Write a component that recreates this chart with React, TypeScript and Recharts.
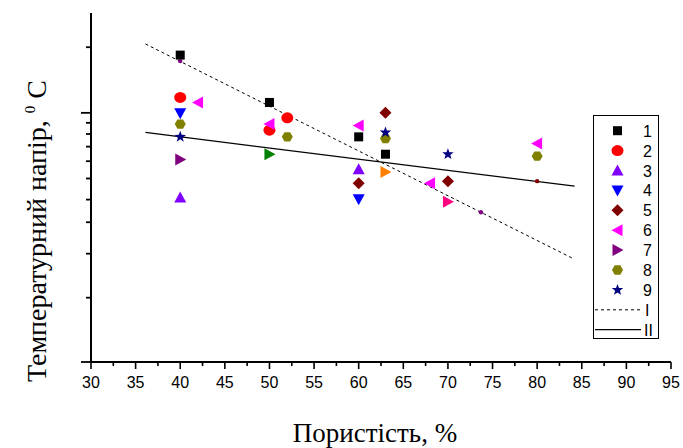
import React from "react";
import { ScatterChart, Scatter, XAxis, YAxis, Legend } from "recharts";

// porosity, % (x) and temperature head (y, log axis, no labels on the original)
const S1_X = [40, 50, 60, 63];
const S1_Y = [18.4, 11.16, 7.76, 6.46];
const S2_X = [40, 50, 52];
const S2_Y = [11.77, 8.33, 9.49];
const S3_X = [40, 60];
const S3_Y = [4.09, 5.51];
const S4_X = [40, 60];
const S4_Y = [9.97, 4.02];
const S5_X = [60, 63, 70];
const S5_Y = [4.75, 10.0, 4.86];
const S6_X = [42, 50, 60, 68, 80];
const S6_Y = [11.16, 8.88, 8.75, 4.75, 7.24];
const S7_X = [40];
const S7_Y = [6.11];
const S8_X = [40, 52, 63, 80];
const S8_Y = [8.88, 7.76, 7.63, 6.33];
const S9_X = [40, 63, 70];
const S9_Y = [7.76, 8.13, 6.46];

// extra points without a legend entry
const GREEN_X = [50];
const GREEN_Y = [6.45];
const ORANGE_X = [63];
const ORANGE_Y = [5.36];
const PINK_X = [70];
const PINK_Y = [3.91];
const DOT_PURPLE_X = [40, 73.7];
const DOT_PURPLE_Y = [17.27, 3.5];
const DOT_WINE_X = [80];
const DOT_WINE_Y = [4.86];

// trend lines
const LINE_I_X = [36.1, 83.9];
const LINE_I_Y = [20.7, 2.16];
const LINE_II_X = [36.1, 84.2];
const LINE_II_Y = [8.13, 4.61];

const X_TICKS = [30, 35, 40, 45, 50, 55, 60, 65, 70, 75, 80, 85, 90, 95];
const Y_TICKS = [0.72, 1.42, 2.26, 3.15, 4, 5, 6, 7, 8, 9, 10, 20];
const Y_MAJOR = [0.72, 10];

const pts = (xs: number[], ys: number[]) => xs.map((x, i) => ({ x, y: ys[i] }));

type Kind = "square" | "circle" | "up" | "down" | "diamond" | "left" | "right" | "hex" | "star" | "dot";

function Marker({ kind, cx, cy, color }: { kind: Kind; cx: number; cy: number; color: string }) {
  const poly = (p: number[][]) => (
    <polygon points={p.map(([a, b]) => `${cx + a},${cy + b}`).join(" ")} fill={color} />
  );
  switch (kind) {
    case "square":
      return <rect x={cx - 4.5} y={cy - 4.5} width={9} height={9} fill={color} />;
    case "circle":
      return <ellipse cx={cx} cy={cy} rx={6} ry={5.5} fill={color} />;
    case "dot":
      return <circle cx={cx} cy={cy} r={2.2} fill={color} />;
    case "up":
      return poly([[0, -6], [6, 5], [-6, 5]]);
    case "down":
      return poly([[0, 6], [6, -5], [-6, -5]]);
    case "left":
      return poly([[-6, 0], [5, -6], [5, 6]]);
    case "right":
      return poly([[6, 0], [-5, -6], [-5, 6]]);
    case "diamond":
      return poly([[0, -6], [6, 0], [0, 6], [-6, 0]]);
    case "hex":
      return poly([[5.5, 0], [2.8, -4.7], [-2.8, -4.7], [-5.5, 0], [-2.8, 4.7], [2.8, 4.7]]);
    case "star": {
      const p: number[][] = [];
      for (let i = 0; i < 10; i++) {
        const r = i % 2 === 0 ? 6 : 2.5;
        const a = -Math.PI / 2 + (i * Math.PI) / 5;
        p.push([r * Math.cos(a), r * Math.sin(a)]);
      }
      return poly(p);
    }
  }
  return null;
}

const SERIES: { name: string; kind: Kind; color: string; data: { x: number; y: number }[] }[] = [
  { name: "1", kind: "square", color: "#000000", data: pts(S1_X, S1_Y) },
  { name: "2", kind: "circle", color: "#ff0000", data: pts(S2_X, S2_Y) },
  { name: "3", kind: "up", color: "#8000ff", data: pts(S3_X, S3_Y) },
  { name: "4", kind: "down", color: "#0000ff", data: pts(S4_X, S4_Y) },
  { name: "5", kind: "diamond", color: "#800000", data: pts(S5_X, S5_Y) },
  { name: "6", kind: "left", color: "#ff00ff", data: pts(S6_X, S6_Y) },
  { name: "7", kind: "right", color: "#800080", data: pts(S7_X, S7_Y) },
  { name: "8", kind: "hex", color: "#808000", data: pts(S8_X, S8_Y) },
  { name: "9", kind: "star", color: "#000080", data: pts(S9_X, S9_Y) },
];

const EXTRA: { kind: Kind; color: string; data: { x: number; y: number }[] }[] = [
  { kind: "right", color: "#008000", data: pts(GREEN_X, GREEN_Y) },
  { kind: "right", color: "#ff8000", data: pts(ORANGE_X, ORANGE_Y) },
  { kind: "right", color: "#ff0080", data: pts(PINK_X, PINK_Y) },
  { kind: "dot", color: "#800080", data: pts(DOT_PURPLE_X, DOT_PURPLE_Y) },
  { kind: "dot", color: "#800000", data: pts(DOT_WINE_X, DOT_WINE_Y) },
];

const XTick = (props: any) => {
  const { x, y, payload } = props;
  const v = payload.value;
  const major = v % 5 === 0;
  return (
    <g>
      <line x1={x} x2={x} y1={y} y2={y + (major ? 7 : 4)} stroke="#000" strokeWidth={1.6} />
      {major && (
        <text x={x} y={y + 26} textAnchor="middle" fontSize={16} fontFamily="'Liberation Sans', Arial" fill="#000">
          {v}
        </text>
      )}
    </g>
  );
};

const YTick = (props: any) => {
  const { x, y, payload } = props;
  const len = Y_MAJOR.includes(payload.value) ? 10 : 5;
  return <line x1={x - len} x2={x} y1={y} y2={y} stroke="#000" strokeWidth={1.8} />;
};

const YTitle = () => (
  <text
    transform="rotate(-90)"
    x={-231}
    y={46}
    textAnchor="middle"
    fontSize={28}
    fontFamily="'Liberation Serif', 'Times New Roman', serif"
    fill="#000"
  >
    Температурний напір,{" "}
    <tspan dy={-11} fontSize={15}>
      0
    </tspan>
    <tspan dy={11}> C</tspan>
  </text>
);

const XTitle = () => (
  <text x={375} y={442} textAnchor="middle" fontSize={27} fontFamily="'Liberation Serif', 'Times New Roman', serif" fill="#000">
    Пористість, %
  </text>
);

const LegendBox = () => (
  <div style={{ width: 66, height: 224, border: "1px solid #000", boxSizing: "border-box", background: "#fff" }}>
    <svg width={64} height={222} style={{ display: "block" }}>
      {SERIES.map((s, i) => (
        <g key={s.name}>
          <Marker kind={s.kind} color={s.color} cx={23.5} cy={14.7 + 19.9 * i} />
          <text x={49} y={14.7 + 19.9 * i + 6} fontSize={16} fontFamily="'Liberation Sans', Arial" fill="#000">
            {s.name}
          </text>
        </g>
      ))}
      <line x1={1} x2={47} y1={14.7 + 19.9 * 9} y2={14.7 + 19.9 * 9} stroke="#000" strokeWidth={1} strokeDasharray="3 3" />
      <text x={51} y={14.7 + 19.9 * 9 + 6} fontSize={16} fontFamily="'Liberation Sans', Arial" fill="#000">
        I
      </text>
      <line x1={1} x2={47} y1={14.7 + 19.9 * 10} y2={14.7 + 19.9 * 10} stroke="#000" strokeWidth={1.2} />
      <text x={50} y={14.7 + 19.9 * 10 + 6} fontSize={16} fontFamily="'Liberation Sans', Arial" fill="#000">
        II
      </text>
    </svg>
  </div>
);

const xTicksAll = X_TICKS.flatMap((t, i) => (i < X_TICKS.length - 1 ? [t, t + 2.5] : [t]));

export default function App() {
  return (
    <div style={{ position: "absolute", left: 0, top: 0, width: 683, height: 448, background: "#fff" }}>
      <ScatterChart width={683} height={448} margin={{ top: 13, right: 12, bottom: 56, left: 51 }}>
        <XAxis
          dataKey="x"
          type="number"
          domain={[30, 95]}
          ticks={xTicksAll}
          interval={0}
          tickSize={0}
          tickMargin={0}
          tickLine={false}
          tick={<XTick />}
          axisLine={{ stroke: "#000", strokeWidth: 2 }}
          height={30}
          label={<XTitle />}
          allowDataOverflow
        />
        <YAxis
          dataKey="y"
          type="number"
          scale="log"
          domain={[0.72, 28.7]}
          ticks={Y_TICKS}
          interval={0}
          tickSize={0}
          tickMargin={0}
          tickLine={false}
          tick={<YTick />}
          axisLine={{ stroke: "#000", strokeWidth: 2 }}
          width={40}
          label={<YTitle />}
          allowDataOverflow
        />
        <Legend
          layout="vertical"
          align="center"
          verticalAlign="middle"
          content={<LegendBox />}
          wrapperStyle={{ left: 593, top: 115, width: 66, height: 224 }}
        />
        <Scatter
          data={pts(LINE_I_X, LINE_I_Y)}
          line={{ stroke: "#000", strokeWidth: 1, strokeDasharray: "3 3" }}
          shape={() => <g />}
          isAnimationActive={false}
        />
        <Scatter
          data={pts(LINE_II_X, LINE_II_Y)}
          line={{ stroke: "#000", strokeWidth: 1.2 }}
          shape={() => <g />}
          isAnimationActive={false}
        />
        {EXTRA.map((s, i) => (
          <Scatter
            key={"e" + i}
            data={s.data}
            fill={s.color}
            shape={(p: any) => <Marker kind={s.kind} color={s.color} cx={p.cx} cy={p.cy} />}
            isAnimationActive={false}
          />
        ))}
        {SERIES.map((s) => (
          <Scatter
            key={s.name}
            name={s.name}
            data={s.data}
            fill={s.color}
            shape={(p: any) => <Marker kind={s.kind} color={s.color} cx={p.cx} cy={p.cy} />}
            isAnimationActive={false}
          />
        ))}
      </ScatterChart>
    </div>
  );
}
